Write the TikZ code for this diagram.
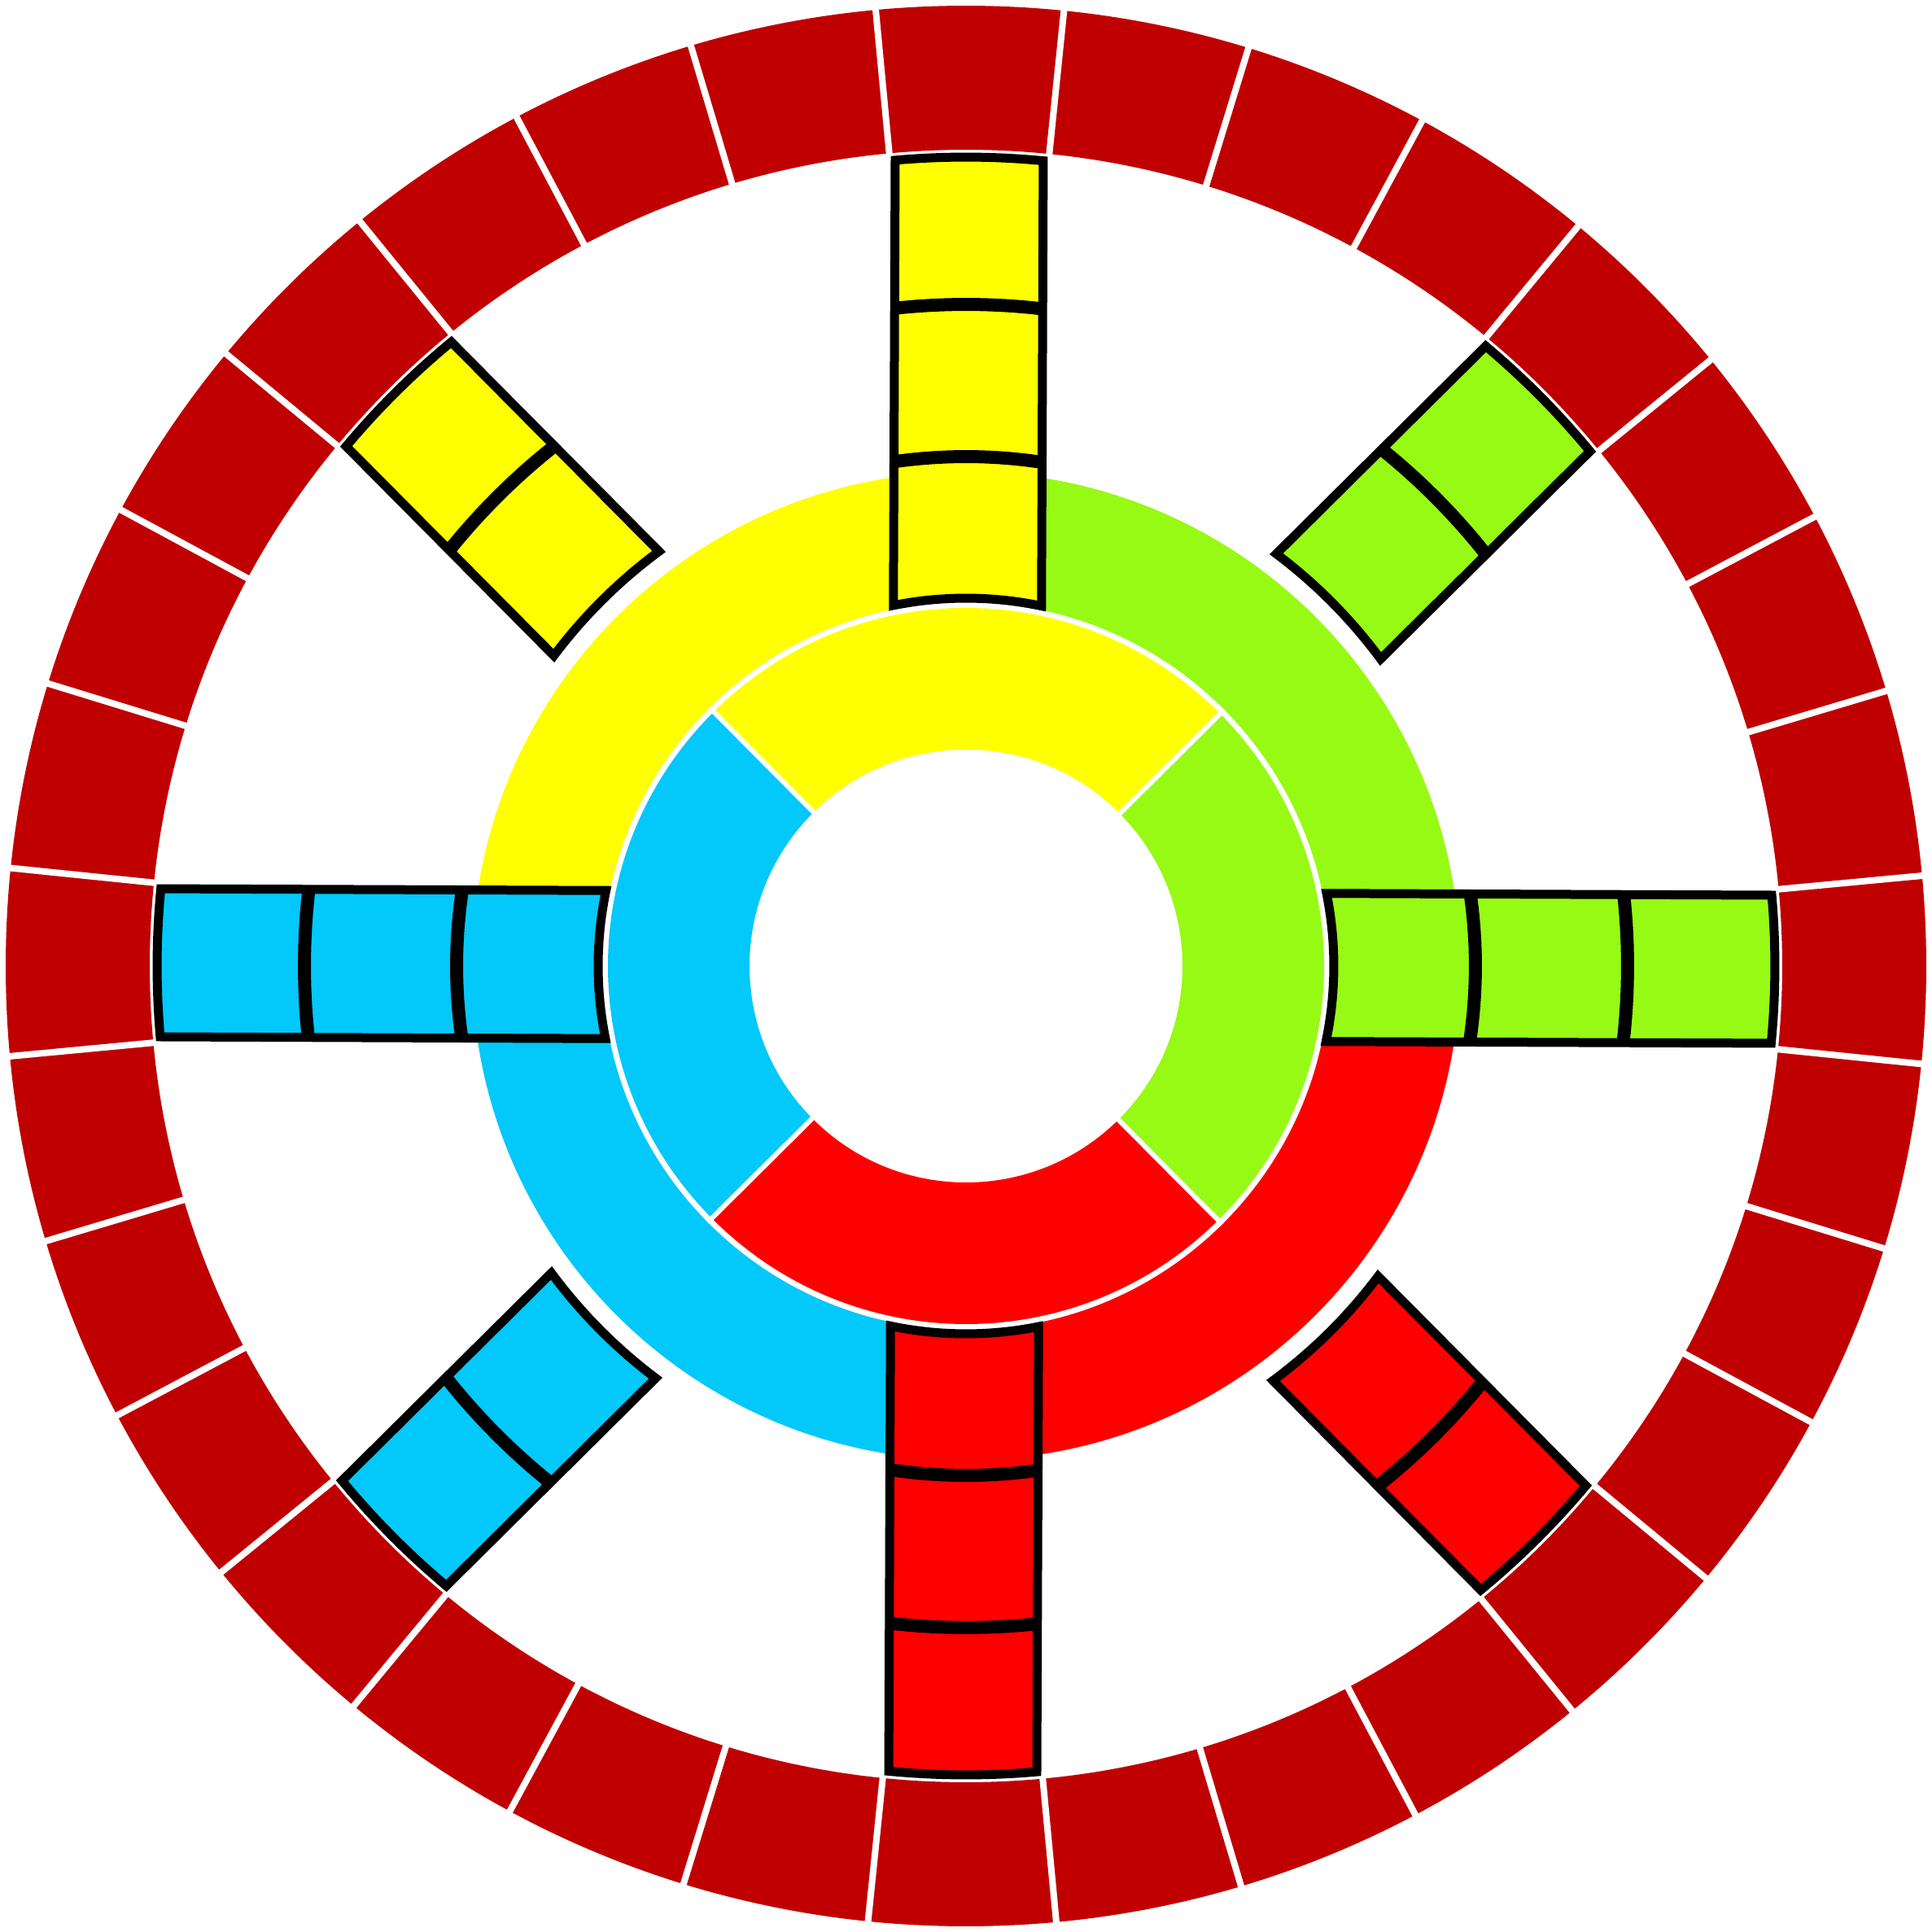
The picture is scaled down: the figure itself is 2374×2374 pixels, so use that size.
\documentclass[tikz,border=0pt]{standalone}
\definecolor{ringred}{RGB}{192,0,0}
\definecolor{cyel}{RGB}{255,255,0}
\definecolor{cgrn}{RGB}{151,250,20}
\definecolor{ccyn}{RGB}{3,200,250}
\definecolor{cred}{RGB}{255,0,0}
\newcommand{\gamebar}[4]{%
  \pgfmathsetmacro\dA{asin(91/#2)}%
  \pgfmathsetmacro\dB{asin(91/994)}%
  \pgfmathsetmacro\aA{#1+\dA}\pgfmathsetmacro\aB{#1-\dA}%
  \pgfmathsetmacro\aC{#1-\dB}\pgfmathsetmacro\aD{#1+\dB}%
  \fill[#3] (\aA:#2pt) arc[start angle=\aA, end angle=\aB, radius=#2pt] -- (\aC:994pt) arc[start angle=\aC, end angle=\aD, radius=994pt] -- cycle;
  \foreach \rr in {#4}{%
    \pgfmathsetmacro\dC{asin(91/\rr)}\pgfmathsetmacro\aE{#1-\dC}\pgfmathsetmacro\aF{#1+\dC}%
    \draw[dividerline] (\aE:\rr pt) arc[start angle=\aE, end angle=\aF, radius=\rr pt];}
  \draw[barline] (\aA:#2pt) arc[start angle=\aA, end angle=\aB, radius=#2pt] -- (\aC:994pt) arc[start angle=\aC, end angle=\aD, radius=994pt] -- cycle;
}
\begin{document}
\begin{tikzpicture}[x=1pt,y=1pt,
  barline/.style={draw=black, line width=11pt, line join=miter},
  dividerline/.style={draw=black, line width=16pt},
  gapline/.style={draw=white, line width=8pt}]
\useasboundingbox (-1187pt,-1187pt) rectangle (1187pt,1187pt);
\fill[white] (-1187pt,-1187pt) rectangle (1187pt,1187pt);
\begin{scope}[rotate=-0.23]
% outer track ring
\fill[ringred, even odd rule] (0,0) circle[radius=1180pt] (0,0) circle[radius=1003pt];
\foreach \k in {0,...,31}{%
  \pgfmathsetmacro\sa{\k*11.25+5.625}%
  \draw[gapline] (\sa:1001pt) -- (\sa:1190pt);}
% outer annulus quadrants
\fill[cgrn] (0,0) -- (0:607pt) arc[start angle=0, end angle=90, radius=607pt] -- cycle;
\fill[cyel] (0,0) -- (90:607pt) arc[start angle=90, end angle=180, radius=607pt] -- cycle;
\fill[ccyn] (0,0) -- (180:607pt) arc[start angle=180, end angle=270, radius=607pt] -- cycle;
\fill[cred] (0,0) -- (270:607pt) arc[start angle=270, end angle=360, radius=607pt] -- cycle;
\fill[white] (0,0) circle[radius=447pt];
% inner annulus pieces
\fill[cyel] (45:266pt) arc[start angle=45, end angle=135, radius=266pt] -- (135:440pt) arc[start angle=135, end angle=45, radius=440pt] -- cycle;
\fill[ccyn] (135:266pt) arc[start angle=135, end angle=225, radius=266pt] -- (225:440pt) arc[start angle=225, end angle=135, radius=440pt] -- cycle;
\fill[cred] (225:266pt) arc[start angle=225, end angle=315, radius=266pt] -- (315:440pt) arc[start angle=315, end angle=225, radius=440pt] -- cycle;
\fill[cgrn] (-45:266pt) arc[start angle=-45, end angle=45, radius=266pt] -- (45:440pt) arc[start angle=45, end angle=-45, radius=440pt] -- cycle;
\foreach \g in {45,135,225,315}{\draw[draw=white, line width=6pt] (\g:255pt) -- (\g:447pt);}
% home columns
\gamebar{90}{452}{cyel}{626,813}
\gamebar{0}{452}{cgrn}{626,813}
\gamebar{270}{452}{cred}{626,813}
\gamebar{180}{452}{ccyn}{626,813}
\gamebar{135}{634}{cyel}{815}
\gamebar{45}{634}{cgrn}{815}
\gamebar{315}{634}{cred}{815}
\gamebar{225}{634}{ccyn}{815}
\end{scope}
\end{tikzpicture}
\end{document}
